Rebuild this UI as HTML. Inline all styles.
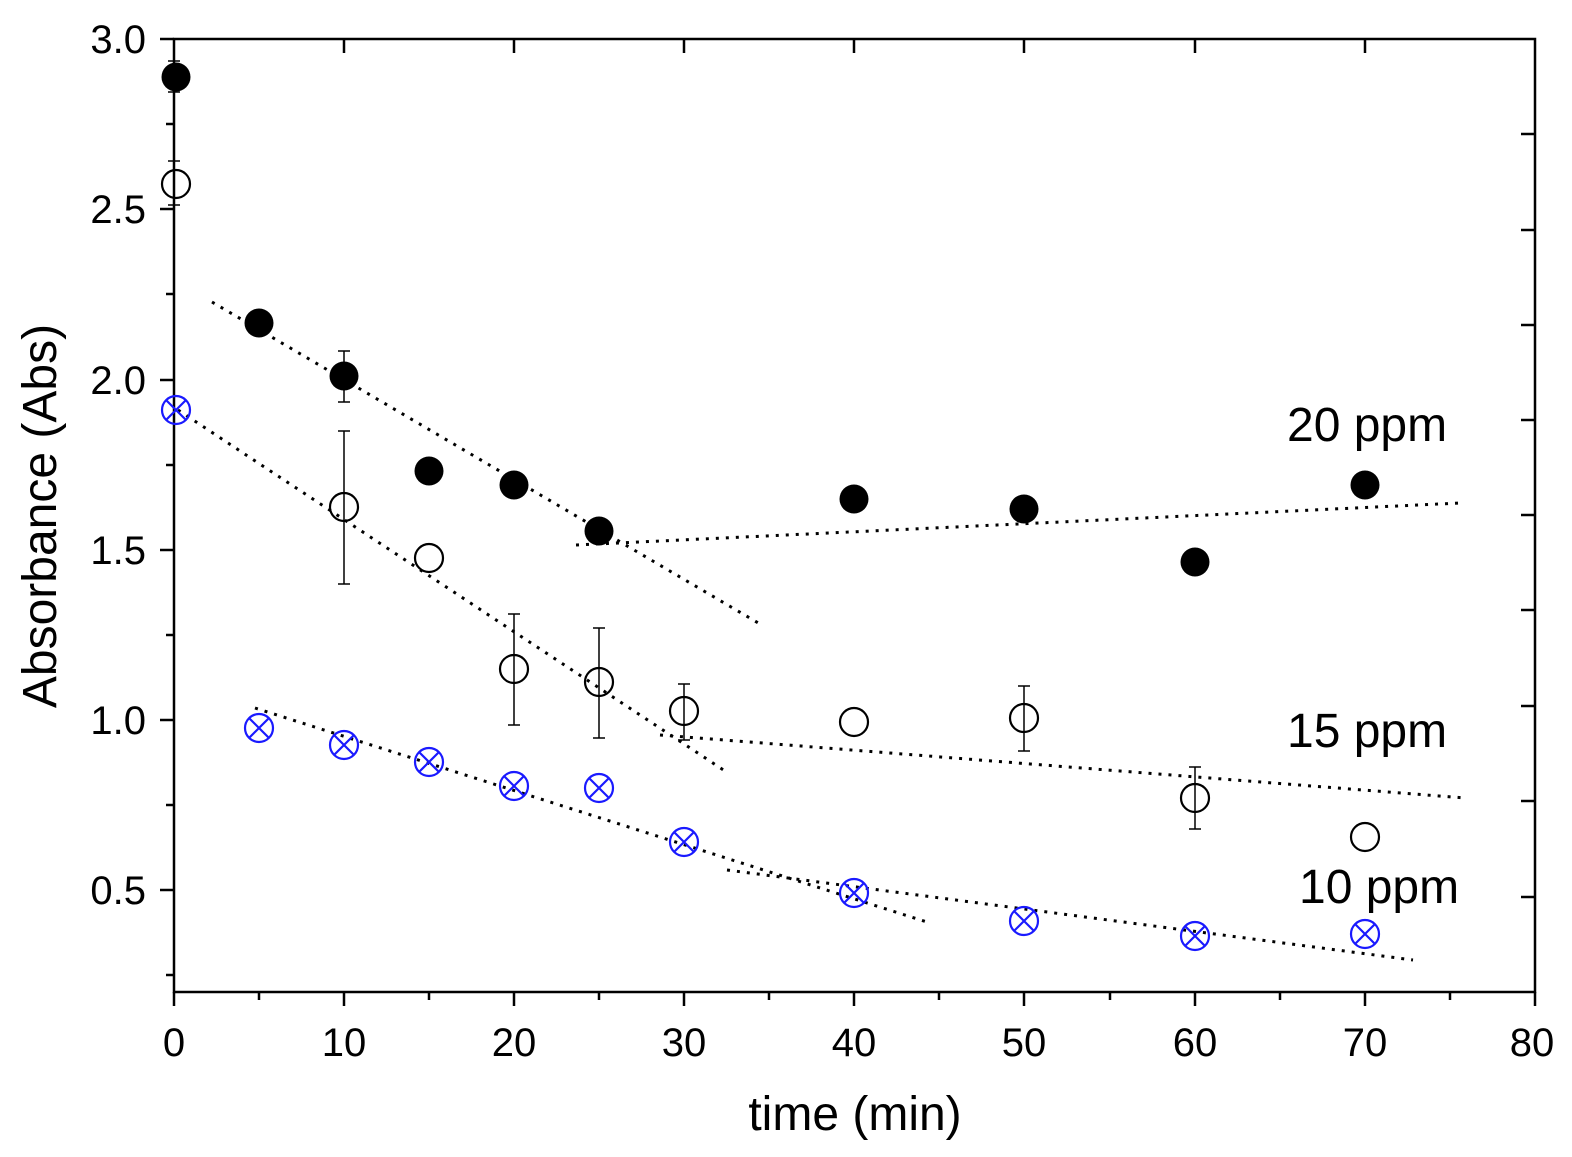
<!DOCTYPE html>
<html><head><style>body{margin:0;background:#fff}svg{display:block}text{font-family:"Liberation Sans",sans-serif;fill:#000}</style></head>
<body>
<svg width="1572" height="1157" viewBox="0 0 1572 1157" xmlns="http://www.w3.org/2000/svg">
<rect x="174" y="39" width="1361" height="953" fill="none" stroke="#000" stroke-width="2.5"/>
<g stroke="#000" stroke-width="2.5">
<line x1="160" y1="39" x2="174" y2="39"/><line x1="166" y1="124" x2="174" y2="124"/>
<line x1="160" y1="209" x2="174" y2="209"/><line x1="166" y1="294" x2="174" y2="294"/>
<line x1="160" y1="380" x2="174" y2="380"/><line x1="166" y1="465" x2="174" y2="465"/>
<line x1="160" y1="550" x2="174" y2="550"/><line x1="166" y1="635" x2="174" y2="635"/>
<line x1="160" y1="720" x2="174" y2="720"/><line x1="166" y1="805" x2="174" y2="805"/>
<line x1="160" y1="890" x2="174" y2="890"/><line x1="166" y1="975" x2="174" y2="975"/>
<line x1="1521" y1="134" x2="1535" y2="134"/><line x1="1521" y1="230" x2="1535" y2="230"/>
<line x1="1521" y1="325" x2="1535" y2="325"/><line x1="1521" y1="420" x2="1535" y2="420"/>
<line x1="1521" y1="515" x2="1535" y2="515"/><line x1="1521" y1="610" x2="1535" y2="610"/>
<line x1="1521" y1="706" x2="1535" y2="706"/><line x1="1521" y1="801" x2="1535" y2="801"/>
<line x1="1521" y1="897" x2="1535" y2="897"/>
<line x1="174" y1="992" x2="174" y2="1006"/><line x1="259" y1="992" x2="259" y2="1000"/>
<line x1="344" y1="992" x2="344" y2="1006"/><line x1="429" y1="992" x2="429" y2="1000"/>
<line x1="514" y1="992" x2="514" y2="1006"/><line x1="599" y1="992" x2="599" y2="1000"/>
<line x1="684" y1="992" x2="684" y2="1006"/><line x1="769" y1="992" x2="769" y2="1000"/>
<line x1="854" y1="992" x2="854" y2="1006"/><line x1="939" y1="992" x2="939" y2="1000"/>
<line x1="1024" y1="992" x2="1024" y2="1006"/><line x1="1110" y1="992" x2="1110" y2="1000"/>
<line x1="1195" y1="992" x2="1195" y2="1006"/><line x1="1280" y1="992" x2="1280" y2="1000"/>
<line x1="1365" y1="992" x2="1365" y2="1006"/><line x1="1450" y1="992" x2="1450" y2="1000"/>
<line x1="1535" y1="992" x2="1535" y2="1006"/>
<line x1="344" y1="39" x2="344" y2="53"/><line x1="514" y1="39" x2="514" y2="53"/>
<line x1="684" y1="39" x2="684" y2="53"/><line x1="854" y1="39" x2="854" y2="53"/>
<line x1="1024" y1="39" x2="1024" y2="53"/><line x1="1195" y1="39" x2="1195" y2="53"/>
<line x1="1365" y1="39" x2="1365" y2="53"/>
</g>
<g font-size="40" text-anchor="end">
<text x="146" y="53">3.0</text><text x="146" y="223">2.5</text><text x="146" y="394">2.0</text>
<text x="146" y="564">1.5</text><text x="146" y="734">1.0</text><text x="146" y="904">0.5</text>
</g>
<g font-size="40" text-anchor="middle">
<text x="174" y="1056">0</text><text x="344" y="1056">10</text><text x="514" y="1056">20</text>
<text x="684" y="1056">30</text><text x="854" y="1056">40</text><text x="1024" y="1056">50</text>
<text x="1195" y="1056">60</text><text x="1365" y="1056">70</text><text x="1532" y="1056">80</text>
</g>
<text x="855" y="1130" font-size="48" text-anchor="middle">time (min)</text>
<text transform="translate(56,516) rotate(-90)" font-size="48" text-anchor="middle">Absorbance (Abs)</text>
<text x="1287" y="441" font-size="48">20 ppm</text>
<text x="1287" y="747" font-size="48">15 ppm</text>
<text x="1299" y="903" font-size="48">10 ppm</text>
<g stroke="#000" stroke-width="3" stroke-dasharray="3,7" fill="none">
<line x1="212" y1="302" x2="760" y2="624"/>
<line x1="576" y1="545" x2="1460" y2="503"/>
<line x1="178" y1="410" x2="728" y2="773"/>
<line x1="660" y1="735" x2="1465" y2="798"/>
<line x1="255" y1="708" x2="930" y2="923"/>
<line x1="727" y1="870" x2="1413" y2="960"/>
</g>
<g stroke="#000" stroke-width="1.5" fill="none">
<path d="M174 61V92M168 61h12M168 92h12"/>
<path d="M344 351V402M338 351h12M338 402h12"/>
<path d="M174 161V205M168 161h12M168 205h12"/>
<path d="M344 431V584M338 431h12M338 584h12"/>
<path d="M514 614V725M508 614h12M508 725h12"/>
<path d="M599 628V738M593 628h12M593 738h12"/>
<path d="M684 684V740M678 684h12M678 740h12"/>
<path d="M1024 686V751M1018 686h12M1018 751h12"/>
<path d="M1195 767V829M1189 767h12M1189 829h12"/>
</g>
<g fill="#000">
<circle cx="176" cy="77" r="14.5"/><circle cx="259" cy="323" r="14.5"/><circle cx="344" cy="376" r="14.5"/>
<circle cx="429" cy="471" r="14.5"/><circle cx="514" cy="485" r="14.5"/><circle cx="599" cy="531" r="14.5"/>
<circle cx="854" cy="499" r="14.5"/><circle cx="1024" cy="509" r="14.5"/><circle cx="1195" cy="562" r="14.5"/>
<circle cx="1365" cy="485" r="14.5"/>
</g>
<g fill="none" stroke="#000" stroke-width="2.2">
<circle cx="176" cy="184" r="14"/><circle cx="344" cy="507" r="14"/><circle cx="429" cy="558" r="14"/>
<circle cx="514" cy="669" r="14"/><circle cx="599" cy="682" r="14"/><circle cx="684" cy="711" r="14"/>
<circle cx="854" cy="722" r="14"/><circle cx="1024" cy="718" r="14"/><circle cx="1195" cy="798" r="14"/>
<circle cx="1365" cy="837" r="14"/>
</g>
<g fill="none" stroke="#1a1aff" stroke-width="2.2">
<g transform="translate(176,410)"><circle r="14"/><path d="M-10-10L10 10M10-10L-10 10"/></g>
<g transform="translate(259,728)"><circle r="14"/><path d="M-10-10L10 10M10-10L-10 10"/></g>
<g transform="translate(344,745)"><circle r="14"/><path d="M-10-10L10 10M10-10L-10 10"/></g>
<g transform="translate(429,762)"><circle r="14"/><path d="M-10-10L10 10M10-10L-10 10"/></g>
<g transform="translate(514,786)"><circle r="14"/><path d="M-10-10L10 10M10-10L-10 10"/></g>
<g transform="translate(599,788)"><circle r="14"/><path d="M-10-10L10 10M10-10L-10 10"/></g>
<g transform="translate(684,842)"><circle r="14"/><path d="M-10-10L10 10M10-10L-10 10"/></g>
<g transform="translate(854,893)"><circle r="14"/><path d="M-10-10L10 10M10-10L-10 10"/></g>
<g transform="translate(1024,921)"><circle r="14"/><path d="M-10-10L10 10M10-10L-10 10"/></g>
<g transform="translate(1195,936)"><circle r="14"/><path d="M-10-10L10 10M10-10L-10 10"/></g>
<g transform="translate(1365,934)"><circle r="14"/><path d="M-10-10L10 10M10-10L-10 10"/></g>
</g>
</svg>
</body></html>
